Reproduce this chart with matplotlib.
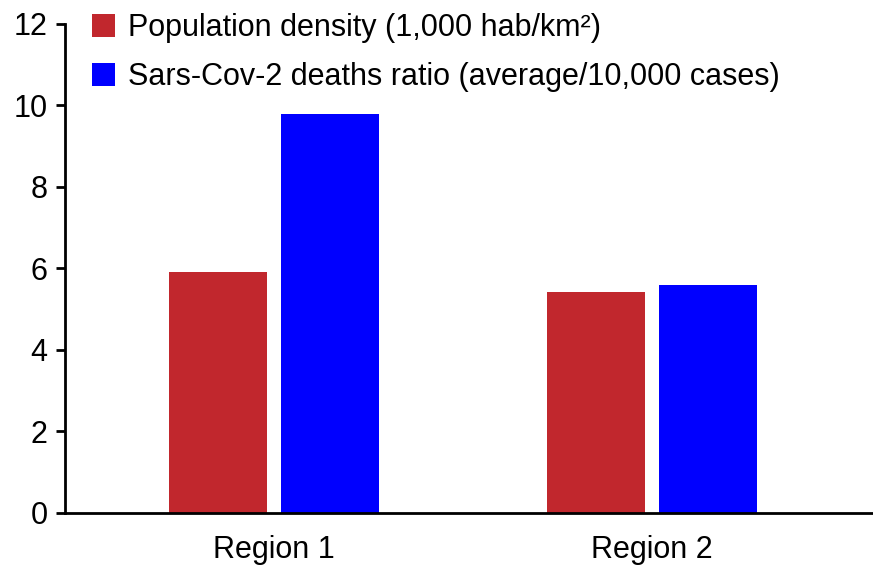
import numpy as np
import matplotlib
matplotlib.use("Agg")
import matplotlib.pyplot as plt

plt.rcParams['font.family'] = ['Liberation Sans', 'DejaVu Sans']

regions = ["Region 1", "Region 2"]
density = [5.92, 5.43]        # 1,000 hab/km2
deaths = [9.78, 5.58]         # average / 10,000 cases
labels = ["Population density (1,000 hab/km²)",
          "Sars-Cov-2 deaths ratio (average/10,000 cases)"]
yticks = [0, 2, 4, 6, 8, 10, 12]

red = "#c1272d"
blue = "#0000ff"

fig = plt.figure(figsize=(8.73, 5.68), dpi=100)
ax = fig.add_axes([65/873, 1-513/568, 1-65/873, (513-23.6)/568])

x = np.arange(len(regions))
w = 0.258
b1 = ax.bar(x - 0.148, density, w, color=red, label=labels[0])
b2 = ax.bar(x + 0.148, deaths, w, color=blue, label=labels[1])

ax.set_xlim(-0.553, 1.585)
ax.set_ylim(0, 12)
ax.set_yticks(yticks)
ax.set_xticks(x)
ax.set_xticklabels(regions)

for s in ["top", "right"]:
    ax.spines[s].set_visible(False)
for s in ["left", "bottom"]:
    ax.spines[s].set_linewidth(2)
ax.tick_params(axis="y", length=6.5, width=2, pad=6, labelsize=22)
ax.tick_params(axis="x", length=0, pad=16, labelsize=22)

fig.legend(handles=[b1, b2], labels=labels, loc="upper left",
           bbox_to_anchor=(92/873, 1-13/568), frameon=False, fontsize=22,
           handlelength=0.76, handleheight=0.76, handletextpad=0.42,
           labelspacing=0.63, borderpad=0, borderaxespad=0)

fig.savefig("out.png", dpi=100)
